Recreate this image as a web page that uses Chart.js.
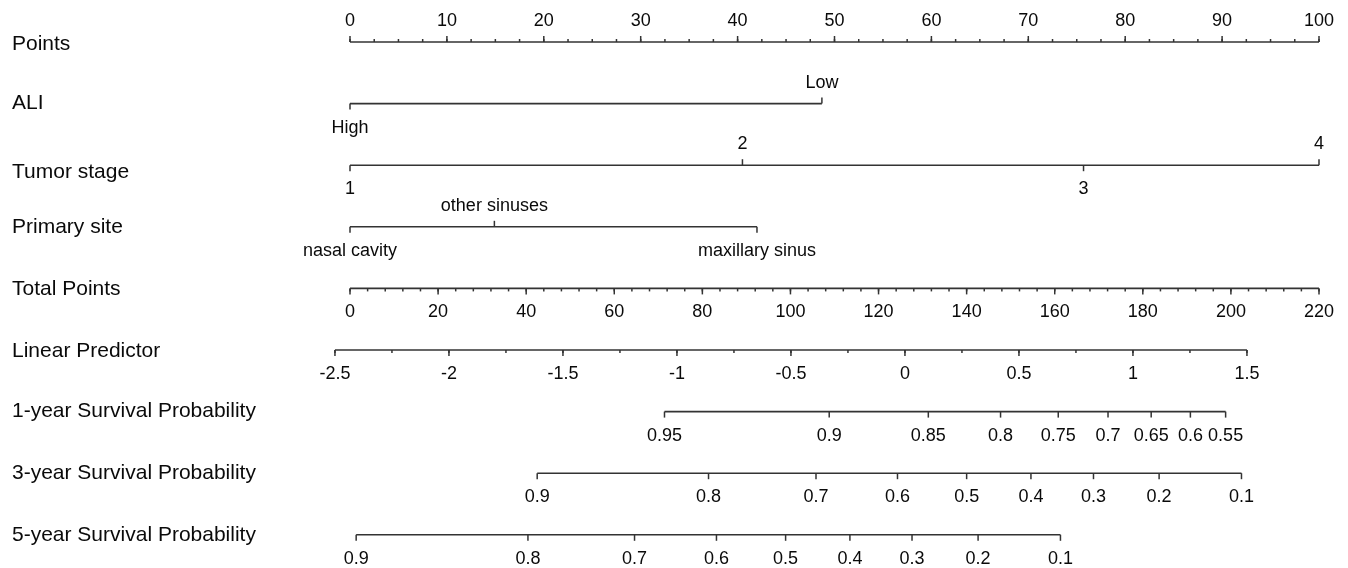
<!DOCTYPE html>
<html><head><meta charset="utf-8">
<script src="https://cdn.jsdelivr.net/npm/chart.js@4.4.1/dist/chart.umd.min.js"></script>
<style>html,body{margin:0;padding:0;background:#fff}#wrap{width:1348px;height:568px;position:relative}</style>
</head><body><div id="wrap"><canvas id="c"></canvas></div>
<script>
// ---- data ----
const rowNames = ['Points','ALI','Tumor stage','Primary site','Total Points','Linear Predictor',
  '1-year Survival Probability','3-year Survival Probability','5-year Survival Probability'];
const pointsTicks = [0,10,20,30,40,50,60,70,80,90,100];
const pointsMinorStep = 2.5;
const aliLevels = ['High','Low'];
const aliPoints = [0,48.7];
const tumorLevels = ['1','2','3','4'];
const tumorPoints = [0,40.5,75.7,100];
const siteLevels = ['nasal cavity','other sinuses','maxillary sinus'];
const sitePoints = [0,14.9,42.0];
const totalTicks = [0,20,40,60,80,100,120,140,160,180,200,220];
const totalMinorStep = 4;
const lpTicks = [-2.5,-2,-1.5,-1,-0.5,0,0.5,1,1.5];
const lpMinorStep = 0.25;
const lpAtTotalEnds = [-2.434, 1.816]; // linear predictor at total points 0 and 220
const surv1Labels = ['0.95','0.9','0.85','0.8','0.75','0.7','0.65','0.6','0.55'];
const surv1Total = [71.4,108.8,131.3,147.7,160.8,172.1,181.9,190.8,198.8];
const surv3Labels = ['0.9','0.8','0.7','0.6','0.5','0.4','0.3','0.2','0.1'];
const surv3Total = [42.5,81.4,105.8,124.3,140.0,154.6,168.8,183.7,202.4];
const surv5Labels = ['0.9','0.8','0.7','0.6','0.5','0.4','0.3','0.2','0.1'];
const surv5Total = [1.4,40.4,64.6,83.2,98.9,113.5,127.6,142.6,161.3];

// ---- styling ----
const LINE = '#333';
const TEXT = '#0a0a0a';
const FONT = '"Liberation Sans", Arial, Helvetica, sans-serif';
const ROWFONT = '21px ' + FONT;
const TICKFONT = '18px ' + FONT;
const MAJ = 6, MIN = 3, ABOVE = -21, BELOW = 24;

// row descriptions
const rows = [
  {axis:'x', kind:'cont', ticks:pointsTicks, labels:pointsTicks.map(String), minor:pointsMinorStep, side:'up', nameDy:2},
  {axis:'x', kind:'cat', ticks:aliPoints, labels:aliLevels, sides:['down','up']},
  {axis:'x', kind:'cat', ticks:tumorPoints, labels:tumorLevels, sides:['down','up','down','up'], nameDy:7},
  {axis:'x', kind:'cat', ticks:sitePoints, labels:siteLevels, sides:['down','up','down']},
  {axis:'xt', kind:'cont', ticks:totalTicks, labels:totalTicks.map(String), minor:totalMinorStep, side:'down', nameDy:1},
  {axis:'xl', kind:'cont', ticks:lpTicks, labels:lpTicks.map(String), minor:lpMinorStep, side:'down', nameDy:1},
  {axis:'xt', kind:'cont', ticks:surv1Total, labels:surv1Labels, side:'down'},
  {axis:'xt', kind:'cont', ticks:surv3Total, labels:surv3Labels, side:'down'},
  {axis:'xt', kind:'cont', ticks:surv5Total, labels:surv5Labels, side:'down'}
];

const datasets = rows.map((r,i)=>({
  data:[{x:Math.min(...r.ticks), y:i},{x:Math.max(...r.ticks), y:i}],
  xAxisID:r.axis, yAxisID:'y', showLine:true, borderColor:LINE, borderWidth:1.6,
  pointRadius:0, clip:false, fill:false
}));

const nomoPlugin = {
  id:'nomo',
  afterDatasetsDraw(chart){
    const ctx = chart.ctx, ys = chart.scales.y;
    ctx.save();
    ctx.strokeStyle = LINE; ctx.lineWidth = 1.5; ctx.fillStyle = TEXT;
    ctx.textBaseline = 'middle';
    rows.forEach((r,i)=>{
      const sx = chart.scales[r.axis];
      const y = ys.getPixelForValue(i);
      ctx.font = ROWFONT; ctx.textAlign = 'left';
      ctx.fillText(rowNames[i], 12, y + (r.nameDy||0));
      ctx.font = TICKFONT; ctx.textAlign = 'center';
      const tick = (px, dir, len)=>{
        ctx.beginPath(); ctx.moveTo(px, y); ctx.lineTo(px, y + (dir==='up'?-len:len)); ctx.stroke();
      };
      if (r.kind === 'cont') {
        if (r.minor) {
          const lo = Math.min(...r.ticks), hi = Math.max(...r.ticks);
          for (let v = lo; v <= hi + 1e-9; v += r.minor) tick(sx.getPixelForValue(v), r.side, MIN);
        }
        r.ticks.forEach((v,k)=>{
          const px = sx.getPixelForValue(v);
          tick(px, r.side, MAJ);
          ctx.fillText(r.labels[k], px, y + (r.side==='up'?ABOVE:BELOW));
        });
      } else {
        r.ticks.forEach((v,k)=>{
          const px = sx.getPixelForValue(v);
          const s = r.sides[k];
          tick(px, s, MAJ);
          ctx.fillText(r.labels[k], px, y + (s==='up'?ABOVE:BELOW));
        });
      }
    });
    ctx.restore();
  }
};

new Chart(document.getElementById('c'), {
  type:'scatter',
  data:{datasets},
  options:{
    responsive:true, maintainAspectRatio:false, animation:false,
    layout:{padding:{left:350, right:29, top:0, bottom:0}},
    plugins:{legend:{display:false}, tooltip:{enabled:false}},
    events:[],
    scales:{
      x:{type:'linear', min:0, max:100, display:false},
      xt:{type:'linear', min:0, max:220, display:false},
      xl:{type:'linear', min:lpAtTotalEnds[0], max:lpAtTotalEnds[1], display:false},
      y:{type:'linear', min:-0.682, max:8.539, reverse:true, display:false}
    }
  },
  plugins:[nomoPlugin]
});
</script></body></html>
